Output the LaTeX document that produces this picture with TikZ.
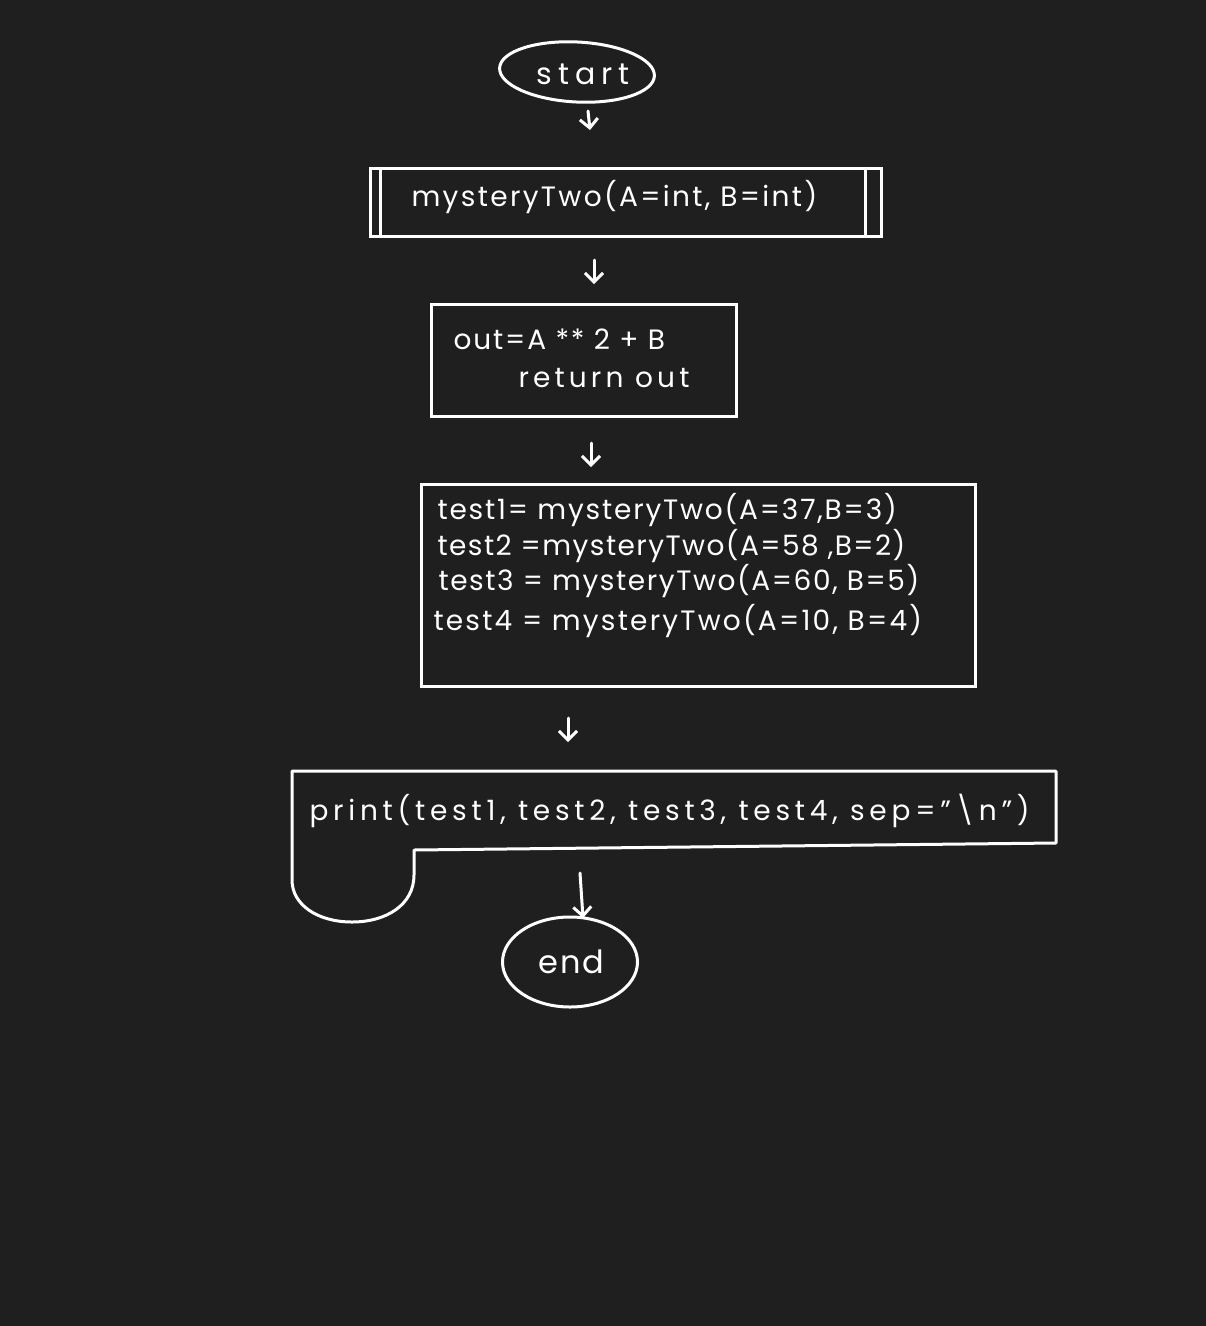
\documentclass[tikz,border=0pt]{standalone}
\usepackage{fontspec}
\setmainfont{Poppins}
\usetikzlibrary{shapes.geometric,arrows.meta}
\definecolor{bg}{HTML}{1F1F1F}
\newcommand\hw[2]{\fontsize{#1}{#1}\selectfont\addfontfeatures{LetterSpace=#2}}
\begin{document}
\begin{tikzpicture}[x=1pt,y=-1pt, line width=3pt, draw=white, text=white,
  txt/.style={text=white, inner sep=0pt},
  arr/.style={draw=white, -{Straight Barb[length=9pt,width=18pt]}, line width=3pt, line cap=round},
  shp/.style={draw=white, line width=3pt}]
\fill[bg] (0,0) rectangle (1206,1326);
\useasboundingbox (0,0) rectangle (1206,1326);
% start
\node[shp, ellipse, minimum width=155pt, minimum height=60pt, inner sep=0pt, rotate=-3] (start) at (577,72) {};
\node[txt, font=\hw{30}{20}, anchor=west] (starttxt) at (535,74) {start};
% predefined process
\node[shp, rectangle, minimum width=511pt, minimum height=68pt, inner sep=0pt] (proc) at (625.5,202) {};
\draw[shp] ([xshift=12pt]proc.north west) -- ([xshift=12pt]proc.south west);
\draw[shp] ([xshift=-17pt]proc.north east) -- ([xshift=-17pt]proc.south east);
\node[txt, font=\hw{28}{8.4}, anchor=west] (proctxt) at (410,197) {mysteryTwo(A=int, B=int)};
% body
\node[shp, rectangle, minimum width=305pt, minimum height=112pt, inner sep=0pt] (body) at (583.5,360) {};
\node[txt, font=\hw{28}{6.7}, anchor=west] (body1) at (452,339) {out=A ** 2 + B};
\node[txt, font=\hw{28}{14.8}, anchor=west] (body2) at (517,378) {return out};
% tests
\node[shp, rectangle, minimum width=554pt, minimum height=202pt, inner sep=0pt] (tests) at (698,585) {};
\node[txt, font=\hw{28}{6.5}, anchor=west] (t1) at (436,510) {test1= mysteryTwo(A=37,B=3)};
\node[txt, font=\hw{28}{5.2}, anchor=west] (t2) at (436,546) {test2 =mysteryTwo(A=58 ,B=2)};
\node[txt, font=\hw{28}{5.7}, anchor=west] (t3) at (437,581) {test3 = mysteryTwo(A=60, B=5)};
\node[txt, font=\hw{28}{7.9}, anchor=west] (t4) at (432,621) {test4 = mysteryTwo(A=10, B=4)};
% print
\draw[shp, line join=round] (414,875) -- (414,850) -- (1056,843) -- (1056,771) -- (292,771) -- (292,880)
  .. controls (292,905) and (318,922) .. (352,922)
  .. controls (386,922) and (414,905) .. (414,875);
\node[txt, font=\hw{28}{17}, anchor=west] (ptxt) at (308,811) {print(test1, test2, test3, test4, sep="\textbackslash n")};
% end
\node[shp, ellipse, minimum width=135pt, minimum height=90pt, inner sep=0pt] (end) at (570,962) {};
\node[txt, font=\hw{32}{6}, anchor=west] (endtxt) at (537,962) {end};
% arrows
\coordinate (a1s) at (588,111); \coordinate (a1e) at (590,130);
\coordinate (a2s) at (594,260); \coordinate (a2e) at (594,284);
\coordinate (a3s) at (591,443); \coordinate (a3e) at (591,467);
\coordinate (a4s) at (568,718); \coordinate (a4e) at (568,742);
\coordinate (a5s) at (580,873); \coordinate (a5e) at (583,918);
\draw[arr] (a1s) -- (a1e);
\draw[arr] (a2s) -- (a2e);
\draw[arr] (a3s) -- (a3e);
\draw[arr] (a4s) -- (a4e);
\draw[arr] (a5s) -- (a5e);
\end{tikzpicture}
\end{document}
